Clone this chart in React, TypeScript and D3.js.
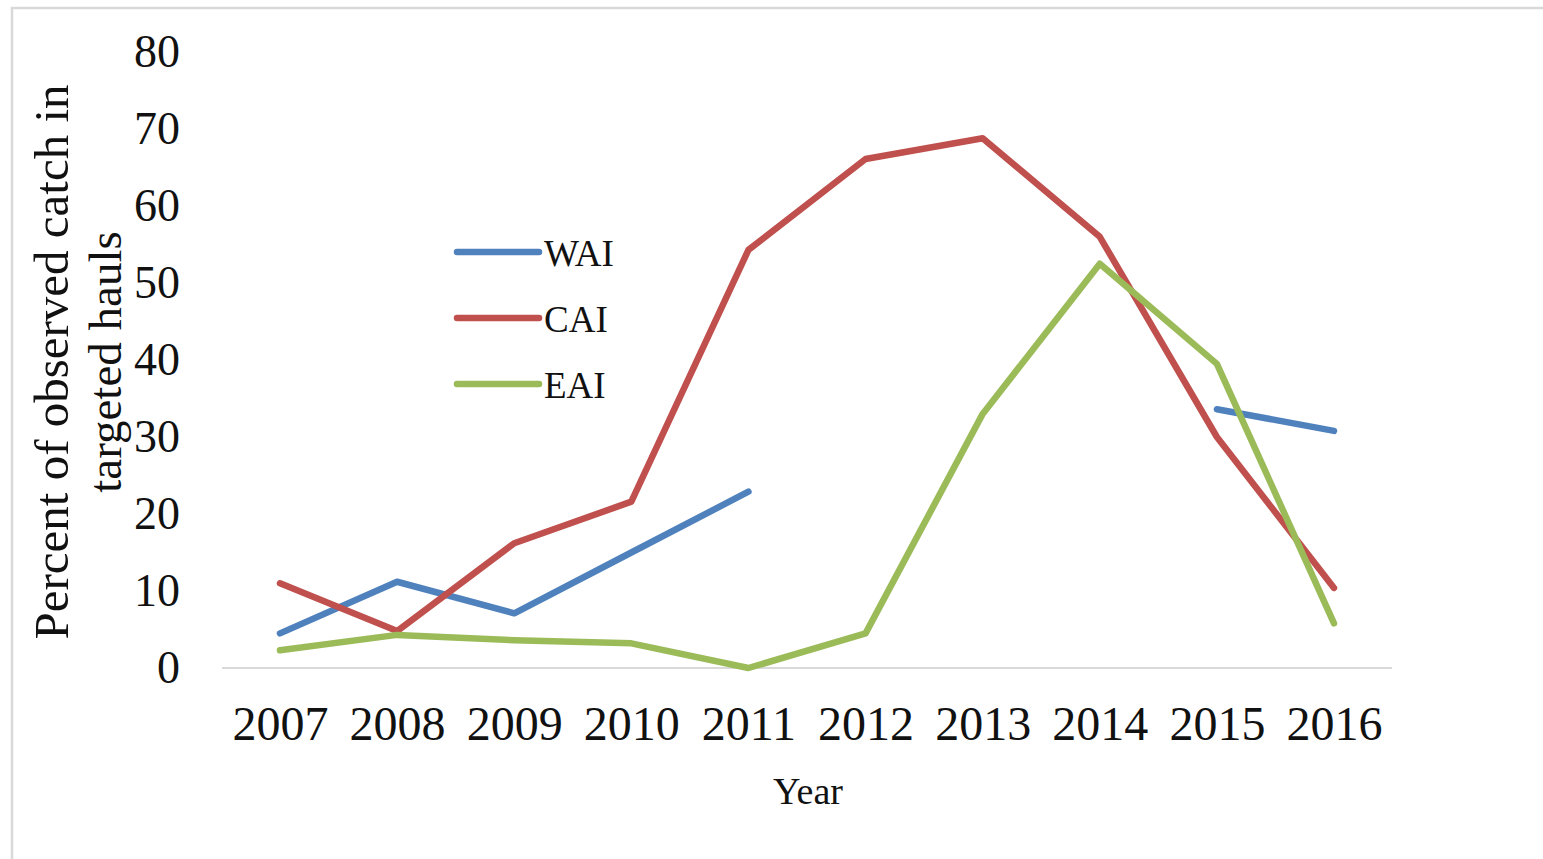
import { useEffect, useRef } from "react";
import * as d3 from "d3";

const years = ["2007", "2008", "2009", "2010", "2011", "2012", "2013", "2014", "2015", "2016"];
const waiValues = [4.5, 11.2, 7.1, 15, 22.9, null, null, null, 33.6, 30.8];
const caiValues = [11.0, 4.8, 16.2, 21.6, 54.3, 66.1, 68.8, 56.0, 30.0, 10.4];
const eaiValues = [2.3, 4.3, 3.6, 3.2, 0, 4.5, 33.0, 52.5, 39.5, 5.8];
const yTicks = [0, 10, 20, 30, 40, 50, 60, 70, 80];

const seriesList = [
    { name: "WAI", values: waiValues, color: "#4f81bd" },
    { name: "CAI", values: caiValues, color: "#c0504d" },
    { name: "EAI", values: eaiValues, color: "#9bbb59" },
];

const FONT = "'Liberation Serif', 'Times New Roman', serif";

export default function App() {
    const svgRef = useRef(null);

    useEffect(() => {
        const svg = d3.select(svgRef.current);
        svg.selectAll("*").remove();

        // scales
        const x = d3.scalePoint().domain(years).range([280, 1334]);
        const y = d3.scaleLinear().domain([0, 80]).range([668, 52]);

        // frame (only top + left edge visible in the picture)
        svg.append("rect")
            .attr("x", 12).attr("y", 8)
            .attr("width", 1700).attr("height", 1000)
            .attr("fill", "none")
            .attr("stroke", "#d9d9d9")
            .attr("stroke-width", 2.5);

        // baseline
        svg.append("line")
            .attr("x1", 222).attr("x2", 1392)
            .attr("y1", y(0)).attr("y2", y(0))
            .attr("stroke", "#d9d9d9")
            .attr("stroke-width", 2);

        // y axis labels
        const yAxis = svg.append("g")
            .attr("transform", "translate(192,0)")
            .call(d3.axisLeft(y).tickValues(yTicks).tickSize(0).tickPadding(12));
        yAxis.select(".domain").remove();
        yAxis.selectAll("text")
            .attr("font-family", FONT)
            .attr("font-size", 46)
            .attr("fill", "#111");

        // x axis labels
        const xAxis = svg.append("g")
            .attr("transform", `translate(0,${y(0)})`)
            .call(d3.axisBottom(x).tickSize(0).tickPadding(38));
        xAxis.select(".domain").remove();
        xAxis.selectAll("text")
            .attr("font-family", FONT)
            .attr("font-size", 48)
            .attr("fill", "#111");

        // lines
        const line = d3.line()
            .defined((d) => d[1] != null)
            .x((d) => x(d[0]))
            .y((d) => y(d[1]));

        seriesList.forEach((s) => {
            svg.append("path")
                .attr("fill", "none")
                .attr("stroke", s.color)
                .attr("stroke-width", 6.5)
                .attr("stroke-linejoin", "round")
                .attr("stroke-linecap", "round")
                .attr("d", line(years.map((yr, i) => [yr, s.values[i]])));
        });

        // legend
        const legend = svg.append("g").attr("transform", "translate(457,252)");
        seriesList.forEach((s, i) => {
            const g = legend.append("g").attr("transform", `translate(0,${i * 66})`);
            g.append("line")
                .attr("x1", 0).attr("x2", 82)
                .attr("stroke", s.color)
                .attr("stroke-width", 6.5)
                .attr("stroke-linecap", "round");
            g.append("text")
                .attr("x", 87).attr("y", 14)
                .attr("font-family", FONT)
                .attr("font-size", 37)
                .attr("fill", "#111")
                .text(s.name);
        });

        // axis titles
        svg.append("text")
            .attr("transform", "translate(68,362) rotate(-90)")
            .attr("text-anchor", "middle")
            .attr("font-family", FONT)
            .attr("font-size", 49)
            .attr("fill", "#111")
            .text("Percent of observed catch in");
        svg.append("text")
            .attr("transform", "translate(121,362) rotate(-90)")
            .attr("text-anchor", "middle")
            .attr("font-family", FONT)
            .attr("font-size", 47)
            .attr("fill", "#111")
            .text("targeted hauls");

        svg.append("text")
            .attr("x", 808).attr("y", 804)
            .attr("text-anchor", "middle")
            .attr("font-family", FONT)
            .attr("font-size", 38)
            .attr("fill", "#111")
            .text("Year");
    }, []);

    return (
        <svg
            ref={svgRef}
            width={1543}
            height={859}
            style={{ position: "absolute", left: 0, top: 0, background: "#fff", display: "block" }}
        ></svg>
    );
}
